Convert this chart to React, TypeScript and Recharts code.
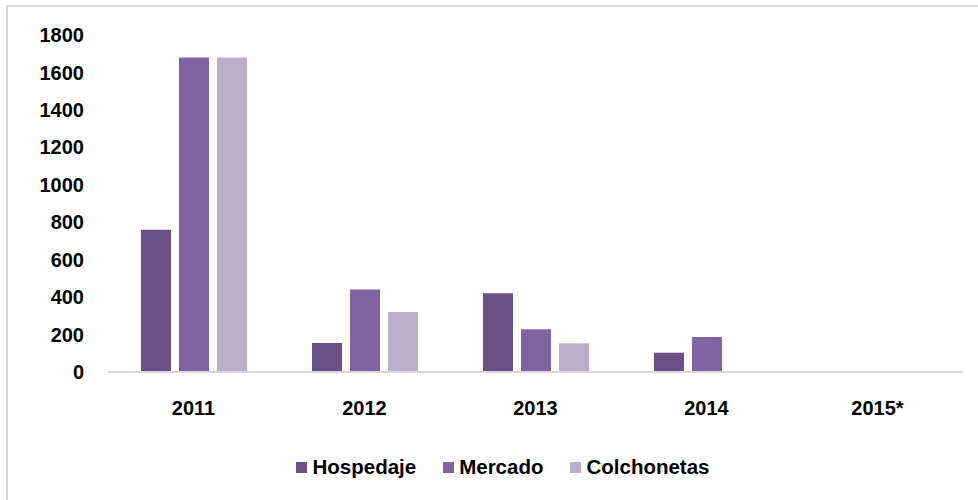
import { BarChart, Bar, XAxis, YAxis } from 'recharts';

const years = ['2011', '2012', '2013', '2014', '2015*'];
const hospedaje = [760, 155, 420, 103, 0];
const mercado = [1680, 440, 228, 187, 0];
const colchonetas = [1680, 320, 153, 0, 0];
const yTicks = [0, 200, 400, 600, 800, 1000, 1200, 1400, 1600, 1800];

const series = [
  { key: 'hospedaje', name: 'Hospedaje', color: '#6a5087' },
  { key: 'mercado', name: 'Mercado', color: '#8064a2' },
  { key: 'colchonetas', name: 'Colchonetas', color: '#b9aecb' },
];

const font = '"Liberation Sans", Arial, sans-serif';

const chartData = years.map((year, i) => ({
  year,
  hospedaje: hospedaje[i],
  mercado: mercado[i],
  colchonetas: colchonetas[i],
}));

// legend drawn by hand so spacing matches the original
function ChartLegend() {
  return (
    <div
      style={{
        position: 'absolute',
        left: 0,
        top: 455,
        width: 978,
        display: 'flex',
        justifyContent: 'center',
        paddingLeft: 55,
        boxSizing: 'border-box',
        fontFamily: font,
      }}
    >
      {series.map((s) => (
        <div key={s.key} style={{ display: 'flex', alignItems: 'center', marginRight: 27 }}>
          <span style={{ width: 11, height: 11, background: s.color, display: 'inline-block', marginRight: 5 }} />
          <span style={{ fontSize: 20.5, fontWeight: 700, color: '#000' }}>{s.name}</span>
        </div>
      ))}
    </div>
  );
}

export default function App() {
  return (
    <div style={{ position: 'fixed', left: 0, top: 0, width: 978, height: 500, overflow: 'hidden', background: '#fff' }}>
      <div
        style={{
          position: 'absolute',
          left: 6,
          top: 5,
          width: 990,
          height: 520,
          border: '2px solid #d9d9d9',
        }}
      />
      <div style={{ position: 'absolute', left: 0, top: 0 }}>
        <BarChart
          width={978}
          height={500}
          data={chartData}
          margin={{ top: 35, right: 15, left: 0, bottom: 98 }}
          barSize={30}
          barGap={8}
        >
          <XAxis
            dataKey="year"
            axisLine={{ stroke: '#d9d9d9', strokeWidth: 2 }}
            tickLine={false}
            tickMargin={23}
            tick={{ fill: '#000', fontSize: 20, fontWeight: 700, fontFamily: font }}
          />
          <YAxis
            width={108}
            domain={[0, 1800]}
            ticks={yTicks}
            axisLine={false}
            tickLine={false}
            tickMargin={18}
            interval={0}
            tick={{ fill: '#000', fontSize: 20, fontWeight: 700, fontFamily: font }}
          />
          {series.map((s) => (
            <Bar key={s.key} dataKey={s.key} name={s.name} fill={s.color} isAnimationActive={false} />
          ))}
        </BarChart>
      </div>
      <ChartLegend />
    </div>
  );
}
